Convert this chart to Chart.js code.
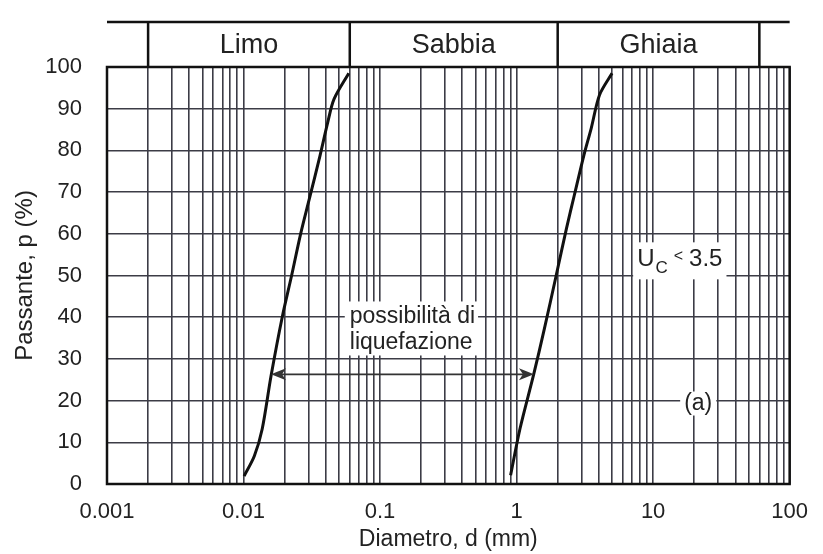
<!DOCTYPE html>
<html>
<head>
<meta charset="utf-8">
<script src="https://cdn.jsdelivr.net/npm/chart.js@4.4.1/dist/chart.umd.min.js"></script>
<style>
  html, body { margin: 0; padding: 0; background: #fff; }
  canvas { display: block; }
</style>
</head>
<body>
<canvas id="granChart" width="823" height="554"></canvas>
<script>
// fuso granulometrico: terreni potenzialmente liquefacibili (Uc < 3.5)

var fineD = [0.0101, 0.0120, 0.0137, 0.0159, 0.0192, 0.0225, 0.0262, 0.0303, 0.0363, 0.0413, 0.0460, 0.0590];
var fineP = [1.9, 6.7, 13.2, 25.9, 40.0, 50.0, 60.0, 68.3, 78.7, 86.6, 92.3, 98.5];

var coarseD = [0.904, 1.06, 1.33, 1.60, 1.95, 2.32, 2.65, 3.12, 3.52, 4.05, 5.0];
var coarseP = [2.1, 13.3, 26.1, 37.3, 50.0, 61.3, 69.3, 79.0, 85.3, 93.3, 98.5];

var xTickValues = [0.001, 0.01, 0.1, 1, 10, 100];
var xTickLabels = ['0.001', '0.01', '0.1', '1', '10', '100'];

var bandNames = ['Limo', 'Sabbia', 'Ghiaia'];
var bandLimits = [0.002, 0.06, 2, 60];

var arrowP = 26.3, arrowFrom = 0.0159, arrowTo = 1.34;
var noteLines = ['possibilità di', 'liquefazione'];
var noteD = 0.06, noteP = 37.3;
var ucD = 7.64, ucP = 52.2;
var tagText = '(a)', tagD = 21.4, tagP = 19.3;

var FONT = 'Arial, "Liberation Sans", sans-serif';
var INK = '#222';
var GRID = '#3c3c46';

// all 1..9 x 10^n lines of the log paper
var gridValues = [];
xTickValues.forEach(function (dec, i) {
  if (i === xTickValues.length - 1) { gridValues.push(dec); return; }
  for (var m = 1; m <= 9; m++) gridValues.push(parseFloat((m * dec).toPrecision(3)));
});

function toPoints(ds, ps) {
  return ds.map(function (d, i) { return { x: d, y: ps[i] }; });
}

function whiteBox(ctx, x, y, w, h) {
  ctx.fillStyle = '#fff';
  ctx.fillRect(x, y, w, h);
}

function arrowHead(ctx, x, y, dir) {
  ctx.beginPath();
  ctx.moveTo(x, y);
  ctx.lineTo(x - dir * 15, y - 6);
  ctx.lineTo(x - dir * 11, y);
  ctx.lineTo(x - dir * 15, y + 6);
  ctx.closePath();
  ctx.fill();
}

var extras = {
  id: 'extras',
  afterDatasetsDraw: function (chart) {
    var ctx = chart.ctx, xs = chart.scales.x, ys = chart.scales.y, a = chart.chartArea;
    ctx.save();

    // plot frame
    ctx.strokeStyle = '#111';
    ctx.lineWidth = 2.5;
    ctx.strokeRect(a.left, a.top, a.right - a.left, a.bottom - a.top);

    // soil class band on top
    var bandTop = 22;
    ctx.beginPath();
    ctx.moveTo(a.left, bandTop);
    ctx.lineTo(a.right, bandTop);
    bandLimits.forEach(function (v) {
      var px = xs.getPixelForValue(v);
      ctx.moveTo(px, bandTop);
      ctx.lineTo(px, a.top);
    });
    ctx.stroke();
    ctx.fillStyle = INK;
    ctx.font = '27px ' + FONT;
    ctx.textAlign = 'center';
    ctx.textBaseline = 'middle';
    bandNames.forEach(function (name, i) {
      var mid = (xs.getPixelForValue(bandLimits[i]) + xs.getPixelForValue(bandLimits[i + 1])) / 2;
      ctx.fillText(name, mid, (bandTop + a.top) / 2 + 1);
    });

    // possibilità di liquefazione
    ctx.font = '23px ' + FONT;
    ctx.textAlign = 'left';
    var nx = xs.getPixelForValue(noteD), ny = ys.getPixelForValue(noteP);
    var nw = Math.max.apply(null, noteLines.map(function (t) { return ctx.measureText(t).width; }));
    whiteBox(ctx, nx - 5, ny - 27, nw + 8, 54);
    ctx.fillStyle = INK;
    noteLines.forEach(function (t, i) {
      ctx.fillText(t, nx, ny - 12 + i * 26);
    });

    // double arrow between the two curves
    var ax1 = xs.getPixelForValue(arrowFrom), ax2 = xs.getPixelForValue(arrowTo), ay = ys.getPixelForValue(arrowP);
    ctx.strokeStyle = '#333';
    ctx.lineWidth = 1.6;
    ctx.beginPath();
    ctx.moveTo(ax1 + 8, ay);
    ctx.lineTo(ax2 - 8, ay);
    ctx.stroke();
    ctx.fillStyle = '#333';
    arrowHead(ctx, ax1, ay, -1);
    arrowHead(ctx, ax2, ay, 1);

    // Uc < 3.5
    var ux = xs.getPixelForValue(ucD), uy = ys.getPixelForValue(ucP);
    ctx.textBaseline = 'alphabetic';
    ctx.font = '24px ' + FONT;
    var wU = ctx.measureText('U').width, w35 = ctx.measureText('3.5').width;
    ctx.font = '17px ' + FONT;
    var wC = ctx.measureText('C').width;
    ctx.font = '16px ' + FONT;
    var wLt = ctx.measureText('<').width;
    var total = wU + 1 + wC + 6 + wLt + 6 + w35;
    whiteBox(ctx, ux - 4, uy - 24, total + 8, 37);
    ctx.fillStyle = INK;
    var cx = ux;
    ctx.font = '24px ' + FONT;
    ctx.fillText('U', cx, uy);
    cx += wU + 1;
    ctx.font = '17px ' + FONT;
    ctx.fillText('C', cx, uy + 7);
    cx += wC + 6;
    ctx.font = '16px ' + FONT;
    ctx.fillText('<', cx, uy - 5);
    cx += wLt + 6;
    ctx.font = '24px ' + FONT;
    ctx.fillText('3.5', cx, uy);

    // (a)
    var tx = xs.getPixelForValue(tagD), ty = ys.getPixelForValue(tagP);
    ctx.font = '23px ' + FONT;
    ctx.textAlign = 'center';
    ctx.textBaseline = 'middle';
    var tw = ctx.measureText(tagText).width;
    whiteBox(ctx, tx - tw / 2 - 4, ty - 12, tw + 8, 24);
    ctx.fillStyle = INK;
    ctx.fillText(tagText, tx, ty);

    ctx.restore();
  }
};

var ctx = document.getElementById('granChart');

var granChart = new Chart(ctx, {
  type: 'line',
  data: {
    datasets: [{
      data: toPoints(fineD, fineP),
      borderColor: '#111',
      borderWidth: 3,
      pointRadius: 0,
      tension: 0.3,
      fill: false
    }, {
      data: toPoints(coarseD, coarseP),
      borderColor: '#111',
      borderWidth: 3,
      pointRadius: 0,
      tension: 0.3,
      fill: false
    }]
  },
  options: {
    responsive: false,
    animation: false,
    layout: { padding: { top: 67, right: 26, left: 0, bottom: 0 } },
    plugins: {
      legend: { display: false },
      tooltip: { enabled: false }
    },
    scales: {
      x: {
        type: 'logarithmic',
        min: 0.001,
        max: 100,
        afterBuildTicks: function (scale) {
          scale.ticks = gridValues.map(function (v) { return { value: v }; });
        },
        afterFit: function (scale) { scale.height = 70; },
        ticks: {
          autoSkip: false,
          maxRotation: 0,
          padding: 15,
          color: INK,
          font: { family: FONT, size: 22 },
          callback: function (v) {
            for (var i = 0; i < xTickValues.length; i++) {
              if (Math.abs(v - xTickValues[i]) < xTickValues[i] * 1e-6) return xTickLabels[i];
            }
            return '';
          }
        },
        grid: { color: GRID, lineWidth: 1.6, drawTicks: false },
        border: { display: false },
        title: {
          display: true,
          text: 'Diametro, d (mm)',
          color: INK,
          font: { family: FONT, size: 23 },
          padding: { top: 0, bottom: 1 }
        }
      },
      y: {
        min: 0,
        max: 100,
        afterFit: function (scale) { scale.width = 107; },
        ticks: {
          stepSize: 10,
          padding: 25,
          color: INK,
          font: { family: FONT, size: 22 }
        },
        grid: { color: GRID, lineWidth: 1.6, drawTicks: false },
        border: { display: false },
        title: {
          display: true,
          text: 'Passante, p (%)',
          color: INK,
          font: { family: FONT, size: 24 },
          padding: { top: 11, bottom: 0 }
        }
      }
    }
  },
  plugins: [extras]
});
</script>
</body>
</html>
